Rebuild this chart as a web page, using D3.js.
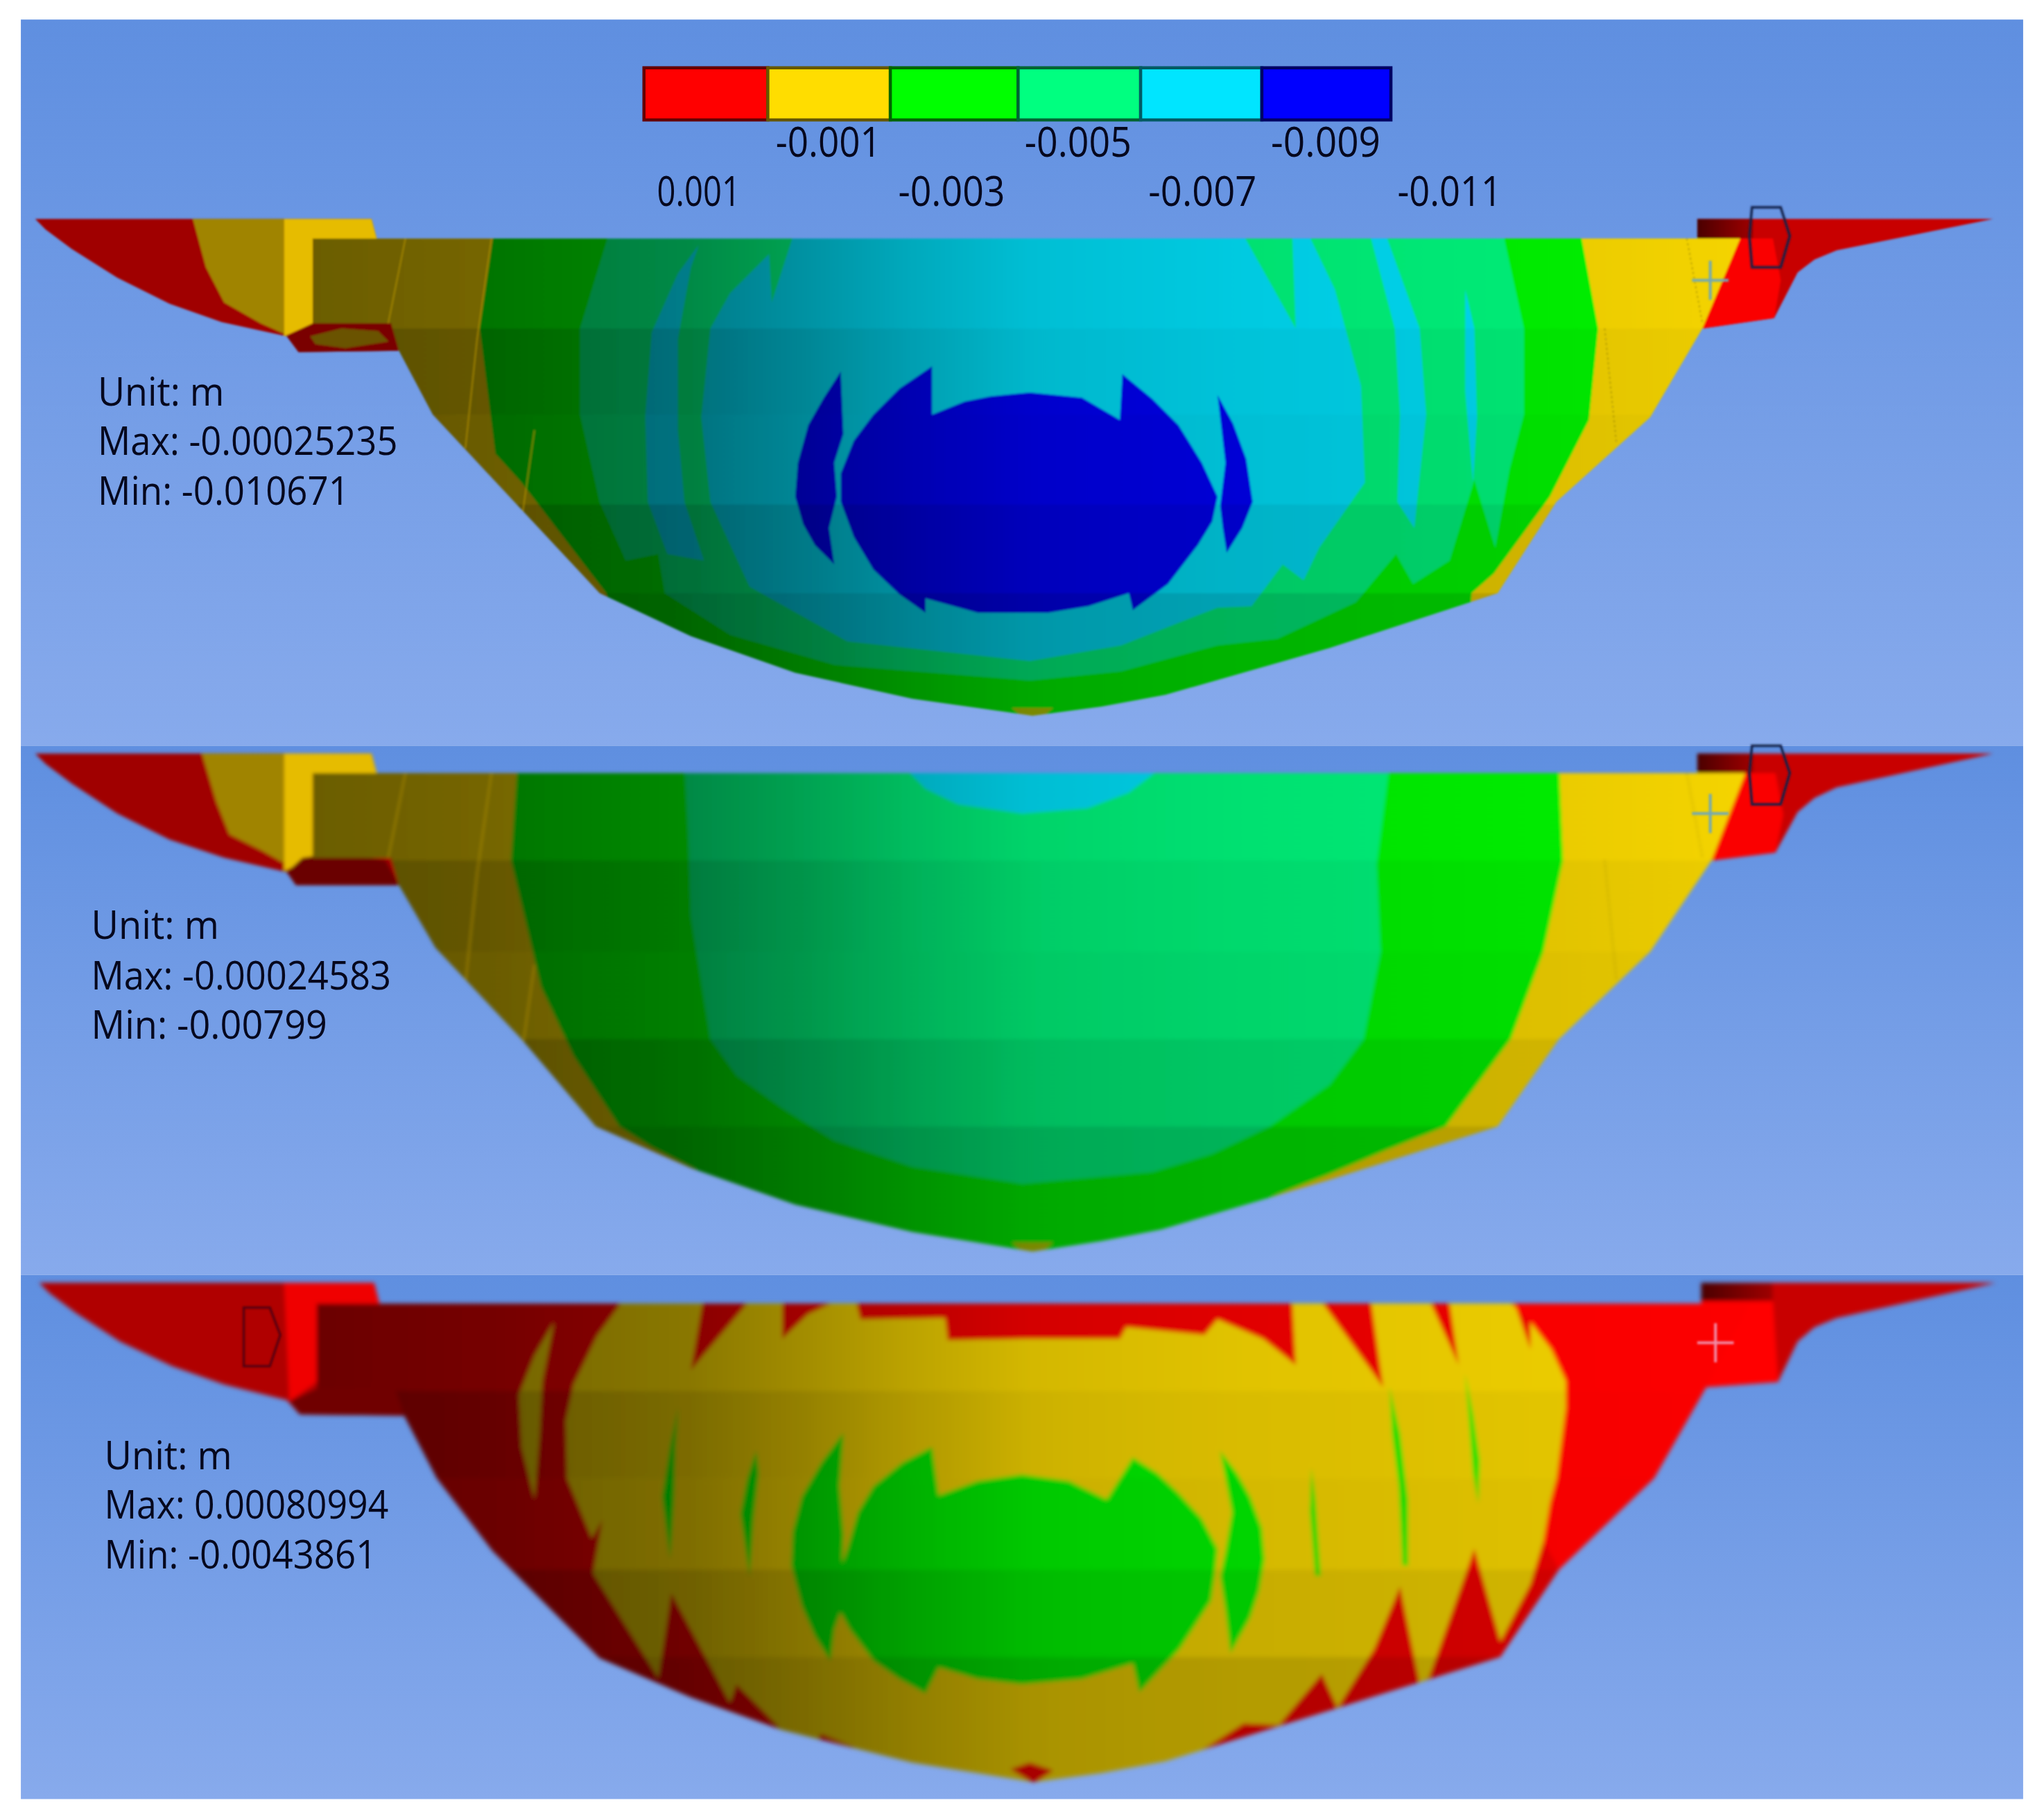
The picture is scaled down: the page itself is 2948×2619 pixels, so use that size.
<!DOCTYPE html>
<html><head><meta charset="utf-8">
<script src="https://cdn.jsdelivr.net/npm/d3@7/dist/d3.min.js"></script>
<style>html,body{margin:0;padding:0;background:#fff}svg{display:block}</style>
</head><body><div id="c"></div>
<script>
// ---------- colour legend ----------
const legendColors=["#ff0000","#ffdd00","#00ff00","#00ff80","#00e5ff","#0000ff"];
const legendEdges=[494,589,683,781,875,968,1067];
const legendUpper=["-0.001","-0.005","-0.009"];
const legendUpperX=[[595,676],[786,868],[975,1059]];
const legendLower=["0.001","-0.003","-0.007","-0.011"];
const legendLowerX=[[504,568],[689,771],[881,964],[1072,1152]];
// ---------- labels ----------
const labelsTop=["Unit: m","Max: -0.00025235","Min: -0.010671"];
const labelsMiddle=["Unit: m","Max: -0.00024583","Min: -0.00799"];
const labelsBottom=["Unit: m","Max: 0.00080994","Min: -0.0043861"];
// ---------- outlines, in reference picture units ----------
const panelBands=[[15,572],[572,978],[978,1380]];
const damTop=[[240,183],[1335,183],[1306,252],[1266,320],[1194,385],[1149,455],[1020,497],[894,533],[845,542],[792,549],[700,536],[610,516],[530,488],[460,455],[360,348],[332,318],[306,269],[300,248],[240,248]];
const damMiddle=[[240,593],[1339,593],[1313,660],[1266,730],[1196,797],[1149,864],[1020,905],[891,943],[845,952],[792,960],[700,945],[610,924],[530,896],[457,864],[400,797],[334,727],[306,679],[300,658],[240,658]];
const damBottom=[[243,1000],[1342,1000],[1309,1064],[1269,1134],[1196,1204],[1151,1271],[1020,1312],[894,1351],[845,1360],[793,1367],[700,1352],[600,1327],[530,1302],[460,1272],[378,1190],[335,1134],[310,1086],[303,1065],[243,1065]];
const rowsTop=[183,252,318,387,455,560];
const rowsMiddle=[593,660,730,797,864,970];
const rowsBottom=[1000,1067,1134,1204,1271,1375];
const rowShade=[0,0.03,0.05,0.11,0.2];
const rowLeftShade=[0,0.14,0.05,0.18,0.14];
const sweepX=[240,380,530,620,700,790,950,1200,1345];
const sweepShade=[0.58,0.54,0.46,0.36,0.26,0.17,0.12,0.08,0.04];
const fadeX=[240,820];
// wings
const wingLeftTop=[[27,168],[285,168],[289,183],[306,269],[229,270],[220,258],[170,247],[130,233],[90,213],[55,191],[35,176]];
const wingLeftMiddle=[[27,578],[285,578],[289,593],[306,679],[227,679],[220,669],[172,658],[130,644],[90,624],[55,601],[35,586]];
const wingLeftBottom=[[30,984],[287,984],[291,1000],[310,1086],[230,1085],[220,1074],[172,1062],[132,1048],[92,1029],[58,1007],[38,992]];
const wingRightTop=[[1302,168],[1529,168],[1409,192],[1392,199],[1379,209],[1361,244],[1306,252]];
const wingRightMiddle=[[1302,578],[1529,578],[1409,604],[1392,612],[1379,623],[1362,654],[1313,660]];
const wingRightBottom=[[1305,984],[1531,984],[1409,1011],[1392,1018],[1379,1029],[1364,1060],[1309,1064]];
// top panel contours
const t_ochre=[[148,168],[218,168],[218,256],[200,248],[172,232],[158,205]];
const t_gold=[[218,168],[285,168],[289,183],[240,183],[240,248],[218,258]];
const t_patch=[[220,258],[240,248],[300,248],[306,269],[229,270]];
const t_patchOval=[[238,258],[262,252],[290,254],[298,262],[265,267],[242,264]];
const t_bright=[[1335,183],[1360,183],[1366,215],[1361,244],[1306,252]];
const t_maroon=[[1302,168],[1345,168],[1345,183],[1302,183]];
const t_green=[[380,170],[1211,170],[1226,252],[1219,322],[1189,381],[1146,440],[1129,455],[1128,470],[900,550],[790,560],[610,530],[470,470],[465,455],[400,370],[380,348],[368,252]];
const t_spring=[[470,170],[1151,170],[1169,252],[1169,318],[1158,360],[1147,420],[1131,368],[1112,430],[1084,448],[1071,425],[1040,462],[980,490],[934,495],[860,515],[790,522],[640,510],[560,487],[510,455],[505,425],[480,430],[460,385],[445,318],[445,252]];
const t_stripeA=[[536,188],[530,205],[520,260],[520,330],[525,385],[540,430],[512,425],[497,385],[495,320],[500,255],[520,210]];
const t_stripeB=[[1051,180],[1063,180],[1089,252],[1094,318],[1087,385],[1085,405],[1072,385],[1074,318],[1070,252]];
const t_stripeC=[[1124,222],[1131,252],[1133,320],[1130,370],[1124,300]];
const t_cyan=[[612,170],[592,232],[590,195],[560,225],[545,252],[538,320],[545,385],[575,450],[650,492],[790,507],[860,495],[934,466],[960,465],[984,433],[1000,445],[1012,420],[1047,370],[1044,296],[1024,222],[999,170],[991,170],[994,252],[948,170]];
const t_blueCore=[[715,281],[715,318],[740,308],[760,304],[790,301],[830,305],[859,322],[861,287],[884,306],[904,326],[922,355],[934,381],[930,400],[919,418],[896,448],[869,468],[866,455],[835,465],[804,470],[750,470],[710,459],[710,470],[690,456],[670,437],[655,412],[645,385],[645,363],[655,338],[670,318],[690,298]];
const t_blueLeft=[[645,285],[632,305],[620,326],[612,355],[610,381],[616,402],[625,418],[640,433],[636,405],[642,381],[640,355],[647,333]];
const t_blueRight=[[934,303],[946,325],[956,352],[961,385],[953,405],[941,424],[938,405],[936,388],[940,355]];
const t_tip=[[776,543],[808,543],[792,556]];
// middle panel contours
const m_ochre=[[155,578],[218,578],[218,662],[200,652],[176,640],[166,615]];
const m_gold=[[218,578],[285,578],[289,593],[240,593],[240,658],[218,668]];
const m_patch=[[220,669],[232,658],[260,654],[296,660],[306,679],[227,679]];
const m_bright=[[1339,593],[1362,593],[1368,625],[1362,654],[1313,660]];
const m_maroon=[[1302,578],[1345,578],[1345,593],[1302,593]];
const m_green=[[397,585],[1196,585],[1199,660],[1184,730],[1159,797],[1109,864],[1064,882],[1019,901],[880,955],[790,970],[610,935],[500,880],[475,864],[440,810],[415,757],[392,660]];
const m_spring=[[525,585],[1066,585],[1056,663],[1059,730],[1046,797],[1020,832],[974,864],[930,885],[884,899],[784,908],[700,895],[640,875],[600,850],[565,825],[545,797],[530,703],[528,640]];
const m_cyan=[[690,585],[896,585],[866,608],[834,620],[784,624],[735,617],[710,605]];
const m_tip=[[776,953],[808,953],[792,966]];
// bottom panel contours
const b_stripeOchre=[[425,1014],[410,1040],[398,1070],[400,1110],[410,1150],[414,1100],[416,1060]];
const b_yellow=[[482,992],[505,992],[475,1051],[505,992],[540,992],[530,1051],[580,992],[600,992],[600,1027],[620,1008],[655,992],[660,1012],[725,1011],[727,1028],[784,1027],[859,1027],[864,1018],[924,1024],[934,1012],[969,1027],[994,1047],[991,992],[1009,992],[1061,1064],[1051,992],[1094,992],[1119,1047],[1111,992],[1159,992],[1174,1035],[1174,1014],[1190,1035],[1201,1059],[1201,1081],[1194,1134],[1189,1153],[1184,1182],[1174,1215],[1151,1259],[1131,1188],[1096,1287],[1089,1291],[1074,1217],[1054,1265],[1026,1310],[1014,1284],[981,1323],[954,1322],[921,1343],[894,1360],[794,1375],[600,1335],[597,1324],[565,1292],[560,1306],[515,1222],[505,1287],[455,1207],[462,1166],[454,1180],[435,1134],[434,1090],[440,1062],[458,1025]];
const b_redTipA=[[775,1357],[790,1352],[808,1358],[793,1368]];
const b_redEdge=[[630,1330],[655,1340],[650,1348],[625,1337]];
const b_greenCore=[[715,1110],[720,1147],[750,1136],[784,1131],[820,1136],[849,1150],[869,1118],[888,1130],[904,1145],[922,1165],[934,1188],[932,1208],[929,1228],[905,1265],[874,1298],[869,1276],[830,1288],[784,1292],[750,1288],[720,1279],[710,1299],[690,1288],[670,1274],[652,1250],[640,1228],[644,1205],[650,1188],[658,1160],[670,1140],[692,1122]];
const b_greenLeft=[[647,1099],[630,1122],[615,1148],[608,1175],[607,1201],[615,1232],[625,1255],[637,1274],[640,1250],[650,1222],[646,1200],[647,1177],[644,1140]];
const b_greenRight=[[936,1113],[949,1130],[959,1148],[968,1172],[970,1196],[966,1220],[959,1241],[944,1268],[940,1235],[936,1209],[940,1190],[945,1160]];
const b_stripes=[
 [[1006,1126],[1009,1150],[1013,1209],[1009,1209],[1005,1160]],
 [[1066,1064],[1074,1100],[1080,1150],[1080,1201],[1076,1201],[1073,1140],[1068,1100]],
 [[1124,1054],[1130,1085],[1135,1120],[1134,1153],[1130,1130],[1127,1090]],
 [[520,1080],[514,1110],[508,1148],[514,1196],[517,1150],[518,1110]],
 [[580,1113],[573,1135],[568,1161],[575,1209],[578,1165],[582,1130]]
];
const b_redRight=[[1159,1000],[1342,1000],[1309,1064],[1269,1134],[1196,1204],[1184,1182],[1189,1153],[1194,1134],[1201,1081],[1201,1059],[1190,1035],[1174,1014]];
const b_bright=[[218,984],[287,984],[291,1000],[243,1000],[243,1060],[222,1075]];
const b_patch=[[222,1075],[243,1065],[303,1065],[310,1086],[230,1085]];
const b_maroon=[[1305,984],[1360,984],[1360,998],[1305,998]];
const b_redWing=[[1305,998],[1360,998],[1364,1060],[1309,1064]];
// small marks
const hexTop=[[1344,159],[1366,159],[1373,181],[1366,205],[1344,205],[1342,181]];
const hexMiddle=[[1344,572],[1366,572],[1373,593],[1366,617],[1344,617],[1342,593]];
const dBottom=[[187,1003],[207,1003],[215,1024],[207,1048],[187,1048]];
const crossPoints=[[1312,215,"#6fa7b8"],[1312,624,"#6fa7b8"],[1316,1030,"#f08aa5"]];
const seamsTop=[[[311,183],[297,252]],[[377,183],[366,260],[357,344]],[[410,330],[400,400]]];
const seamsMiddle=[[[311,593],[297,662]],[[377,593],[366,670],[357,755]],[[410,740],[400,810]]];
const dotsTop=[[[1294,183],[1306,248]],[[1231,252],[1240,340]]];
const dotsMiddle=[[[1294,593],[1306,658]],[[1231,660],[1240,752]]];

const W=2948,H=2619;
const x=d3.scaleLinear().domain([0,1568]).range([0,W]);
const y=d3.scaleLinear().domain([0,1393]).range([0,H]);
const path=d3.line().x(d=>x(d[0])).y(d=>y(d[1])).curve(d3.curveLinearClosed);
const open=d3.line().x(d=>x(d[0])).y(d=>y(d[1]));
const svg=d3.select("#c").append("svg").attr("width",W).attr("height",H).attr("viewBox",[0,0,W,H]);
svg.append("rect").attr("width",W).attr("height",H).attr("fill","#fff");
const defs=svg.append("defs");
const bg=defs.append("linearGradient").attr("id","bg").attr("x1",0).attr("x2",0).attr("y1",0).attr("y2",1);
bg.append("stop").attr("offset",0).attr("stop-color","#5f8fe0");
bg.append("stop").attr("offset",1).attr("stop-color","#87aaec");
const sweep=defs.append("linearGradient").attr("id","sweep").attr("gradientUnits","userSpaceOnUse")
  .attr("x1",x(sweepX[0])).attr("x2",x(sweepX[sweepX.length-1])).attr("y1",0).attr("y2",0);
sweepX.forEach((v,i)=>sweep.append("stop").attr("offset",(v-sweepX[0])/(sweepX[sweepX.length-1]-sweepX[0])).attr("stop-color","#000").attr("stop-opacity",sweepShade[i]));
const fade=defs.append("linearGradient").attr("id","fade").attr("gradientUnits","userSpaceOnUse")
  .attr("x1",x(fadeX[0])).attr("x2",x(fadeX[1])).attr("y1",0).attr("y2",0);
fade.append("stop").attr("offset",0).attr("stop-color","#000").attr("stop-opacity",1);
fade.append("stop").attr("offset",1).attr("stop-color","#000").attr("stop-opacity",0);
const mg=defs.append("linearGradient").attr("id","mar").attr("x1",0).attr("x2",1).attr("y1",0).attr("y2",0);
mg.append("stop").attr("offset",0).attr("stop-color","#4a0000");
mg.append("stop").attr("offset",1).attr("stop-color","#a00000");
[["soft1",1.5],["soft2",2.4],["soft3",3.2]].forEach(([id,s])=>defs.append("filter").attr("id",id).attr("x","-2%").attr("y","-2%").attr("width","104%").attr("height","104%").append("feGaussianBlur").attr("stdDeviation",s));

const xL=16,xR=1552;
panelBands.forEach(b=>svg.append("rect").attr("x",x(xL)).attr("y",y(b[0])).attr("width",x(xR)-x(xL)).attr("height",y(b[1])-y(b[0])).attr("fill","url(#bg)"));

function poly(g,pts,fill,op){return g.append("path").attr("d",path(pts)).attr("fill",fill).attr("fill-opacity",op==null?1:op);}
function panel(id,filter,dam,rows,wingL,wingR,wingFillL,wingFillR,before,layers,after){
  const root=svg.append("g").attr("filter","url(#"+filter+")");
  poly(root,wingL,wingFillL);
  poly(root,wingR,wingFillR);
  before.forEach(l=>poly(root,l[0],l[1]));
  defs.append("clipPath").attr("id","clip"+id).append("path").attr("d",path(dam));
  const g=root.append("g").attr("clip-path","url(#clip"+id+")");
  layers.forEach(l=>poly(g,l[0],l[1]));
  const left=x(230),w=x(1360)-x(230);
  g.append("rect").attr("x",left).attr("y",y(rows[0])).attr("width",w).attr("height",y(rows[5])-y(rows[0])).attr("fill","url(#sweep)");
  rowShade.forEach((o,i)=>g.append("rect").attr("x",left).attr("y",y(rows[i])).attr("width",w).attr("height",y(rows[i+1])-y(rows[i])).attr("fill","#000").attr("fill-opacity",o));
  rowLeftShade.forEach((o,i)=>g.append("rect").attr("x",left).attr("y",y(rows[i])).attr("width",w).attr("height",y(rows[i+1])-y(rows[i])).attr("fill","url(#fade)").attr("opacity",o));
  after(root,g);
  return root;
}
const C={red:legendColors[0],yel:legendColors[1],grn:legendColors[2],spr:legendColors[3],cya:legendColors[4],blu:legendColors[5]};

function seams(g,list,col,w,dash,op){list.forEach(s=>g.append("path").attr("d",open(s)).attr("fill","none").attr("stroke",col).attr("stroke-width",w).attr("stroke-opacity",op).attr("stroke-dasharray",dash||null));}

panel(1,"soft1",damTop,rowsTop,wingLeftTop,wingRightTop,"#a00000","#c80000",
 [[t_ochre,"#a08400"],[t_gold,"#e6bc00"],[t_patch,"#7a0000"],[t_patchOval,"#6a5200"],[t_bright,"#fa0000"],[t_maroon,"url(#mar)"]],
 [[damTop,C.yel],[t_green,C.grn],[t_spring,C.spr],[t_stripeA,C.cya],[t_stripeB,C.cya],[t_stripeC,C.cya],[t_cyan,C.cya],[t_blueCore,C.blu],[t_blueLeft,C.blu],[t_blueRight,C.blu],[t_tip,"#b8d000"]],
 (r,g)=>{seams(g,seamsTop,"#c8a000",1.5,null,.7);seams(g,dotsTop,"#7a6a10",1.5,"3 4",.7);});

panel(2,"soft2",damMiddle,rowsMiddle,wingLeftMiddle,wingRightMiddle,"#a00000","#c80000",
 [[m_ochre,"#a08400"],[m_gold,"#e6bc00"],[m_patch,"#6a0000"],[m_bright,"#fa0000"],[m_maroon,"url(#mar)"]],
 [[damMiddle,C.yel],[m_green,C.grn],[m_spring,C.spr],[m_cyan,C.cya],[m_tip,"#b8d000"]],
 (r,g)=>{seams(g,seamsMiddle,"#c8a000",1.5,null,.7);seams(g,dotsMiddle,"#7a6a10",1.5,"3 4",.7);});

panel(3,"soft3",damBottom,rowsBottom,wingLeftBottom,wingRightBottom,"#b00000","#c80000",
 [[b_bright,"#f00000"],[b_patch,"#700000"],[b_redWing,"#ff0000"],[b_maroon,"url(#mar)"]],
 [[damBottom,C.red],[b_stripeOchre,C.yel],[b_yellow,C.yel],[b_redTipA,C.red],[b_redEdge,C.red],
  [b_greenCore,C.grn],[b_greenLeft,C.grn],[b_greenRight,C.grn]].concat(b_stripes.map(s=>[s,C.grn])),
 (r,g)=>{poly(g,b_redRight,C.red,.7);});

// thin outlines of the support symbol and the axis crosses
const marks=svg.append("g").attr("filter","url(#soft1)");
poly(marks,hexTop,"none").attr("stroke","#12204a").attr("stroke-width",3.5);
poly(marks,hexMiddle,"none").attr("stroke","#12204a").attr("stroke-width",3.5);
poly(marks,dBottom,"none").attr("stroke","#5a0010").attr("stroke-width",3.5);
crossPoints.forEach(c=>{
  marks.append("path").attr("d",open([[c[0],c[1]-15],[c[0],c[1]+15]])).attr("stroke",c[2]).attr("stroke-width",4).attr("fill","none");
  marks.append("path").attr("d",open([[c[0]-14,c[1]],[c[0]+14,c[1]]])).attr("stroke",c[2]).attr("stroke-width",4).attr("fill","none");
});

// legend
const lg=svg.append("g");
legendColors.forEach((c,i)=>{
  const a=legendEdges[i],b=legendEdges[i+1];
  lg.append("rect").attr("x",x(a)).attr("y",y(52)).attr("width",x(b)-x(a)).attr("height",y(92)-y(52))
   .attr("fill",c).attr("stroke",d3.color(c).darker(2.6).formatHex()).attr("stroke-width",4.5);
});
// text
const font="'Open Sans','Noto Sans',sans-serif";
function label(t,x0,x1,yy,size){
  const n=svg.append("text").attr("x",x(x0)).attr("y",y(yy)).attr("font-family",font).attr("font-size",size).attr("fill","#06081e").text(t);
  n.attr("textLength",x(x1)-x(x0)).attr("lengthAdjust","spacingAndGlyphs");
}
legendUpper.forEach((t,i)=>label(t,legendUpperX[i][0],legendUpperX[i][1],120,60));
legendLower.forEach((t,i)=>label(t,legendLowerX[i][0],legendLowerX[i][1],158,60));
const blocks=[
 [labelsTop,75,[172,305,268],[311,349,387]],
 [labelsMiddle,70,[168,300,251],[720,759,797]],
 [labelsBottom,80,[178,298,289],[1127,1165,1203]]
];
blocks.forEach(b=>b[0].forEach((t,i)=>label(t,b[1],b[2][i],b[3][i],57)));
</script></body></html>
